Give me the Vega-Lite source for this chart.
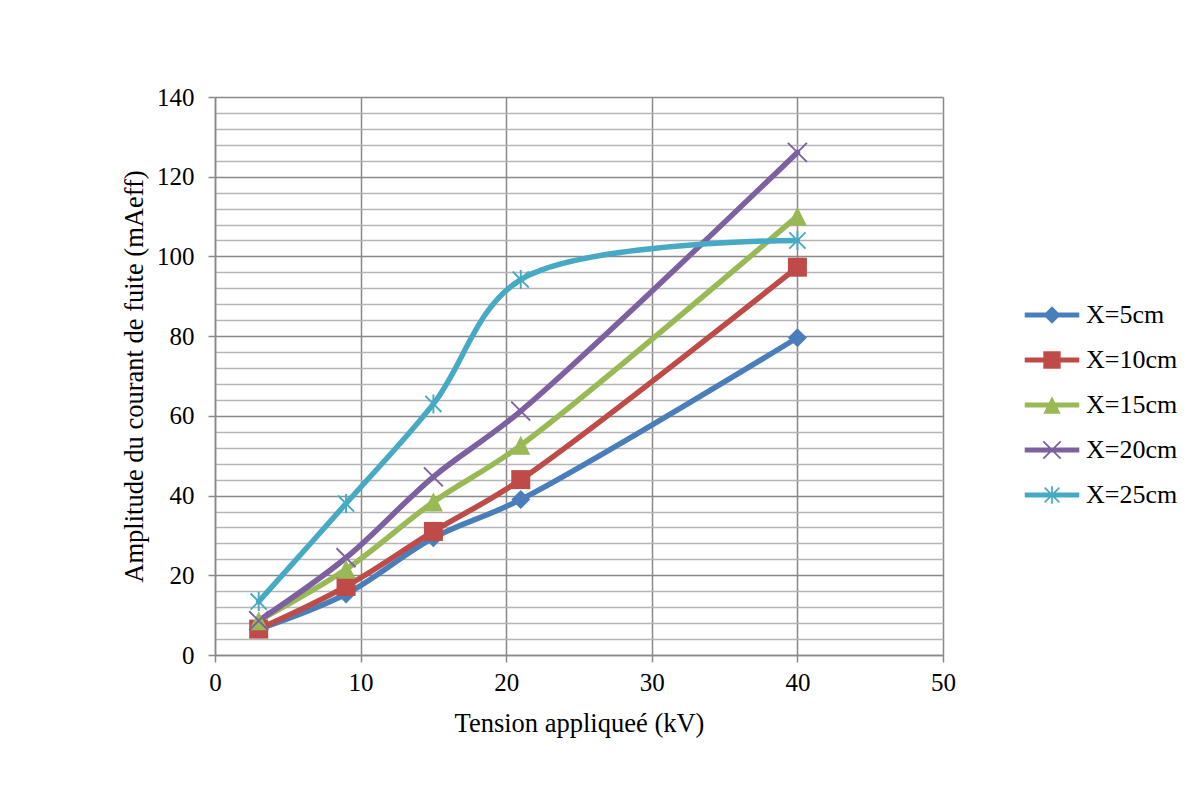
{
  "$schema": "https://vega.github.io/schema/vega-lite/v6.json",
  "width": 728,
  "height": 558,
  "autosize": {"type": "none"},
  "padding": {"left": 215, "top": 97, "right": 260, "bottom": 141},
  "background": "white",
  "config": {"font": "Liberation Serif", "view": {"stroke": null}},
  "data": {"values": [
    {"kv": 3, "amp": 6.5, "serie": "X=5cm"},
    {"kv": 9, "amp": 15.3, "serie": "X=5cm"},
    {"kv": 15, "amp": 29.4, "serie": "X=5cm"},
    {"kv": 21, "amp": 39.0, "serie": "X=5cm"},
    {"kv": 40, "amp": 79.6, "serie": "X=5cm"},
    {"kv": 3, "amp": 6.5, "serie": "X=10cm"},
    {"kv": 9, "amp": 17.2, "serie": "X=10cm"},
    {"kv": 15, "amp": 31.0, "serie": "X=10cm"},
    {"kv": 21, "amp": 44.0, "serie": "X=10cm"},
    {"kv": 40, "amp": 97.3, "serie": "X=10cm"},
    {"kv": 3, "amp": 8.6, "serie": "X=15cm"},
    {"kv": 9, "amp": 21.5, "serie": "X=15cm"},
    {"kv": 15, "amp": 38.4, "serie": "X=15cm"},
    {"kv": 21, "amp": 52.6, "serie": "X=15cm"},
    {"kv": 40, "amp": 110.1, "serie": "X=15cm"},
    {"kv": 3, "amp": 8.6, "serie": "X=20cm"},
    {"kv": 9, "amp": 24.4, "serie": "X=20cm"},
    {"kv": 15, "amp": 44.7, "serie": "X=20cm"},
    {"kv": 21, "amp": 61.2, "serie": "X=20cm"},
    {"kv": 40, "amp": 126.1, "serie": "X=20cm"},
    {"kv": 3, "amp": 13.4, "serie": "X=25cm"},
    {"kv": 9, "amp": 38.0, "serie": "X=25cm"},
    {"kv": 15, "amp": 63.0, "serie": "X=25cm"},
    {"kv": 21, "amp": 94.2, "serie": "X=25cm"},
    {"kv": 40, "amp": 104.0, "serie": "X=25cm"}
  ]},
  "layer": [
    {
      "mark": {"type": "line", "interpolate": "catmull-rom", "strokeWidth": 5.5, "strokeCap": "round", "strokeJoin": "round"},
      "encoding": {
        "x": {"field": "kv", "type": "quantitative", "scale": {"domain": [0, 50]},
          "axis": {"values": [0, 10, 20, 30, 40, 50], "grid": true, "gridColor": "#898989", "gridWidth": 1.5,
            "domainColor": "#898989", "domainWidth": 1.5, "tickColor": "#898989", "tickWidth": 1.5, "tickSize": 7,
            "labelFontSize": 25, "labelColor": "black", "labelPadding": 8, "labelFlush": false,
            "title": "Tension appliqueé (kV)", "titleFontSize": 26.5, "titleFontWeight": "normal", "titleColor": "black", "titlePadding": 15}},
        "y": {"field": "amp", "type": "quantitative", "scale": {"domain": [0, 140]},
          "axis": {"values": [0, 20, 40, 60, 80, 100, 120, 140], "grid": true, "gridColor": "#898989", "gridWidth": 1.5,
            "domainColor": "#898989", "domainWidth": 1.5, "tickColor": "#898989", "tickWidth": 1.5, "tickSize": 7,
            "labelFontSize": 25, "labelColor": "black", "labelPadding": 14,
            "title": "Amplitude du courant de fuite (mAeff)", "titleFontSize": 26.5, "titleFontWeight": "normal", "titleColor": "black", "titlePadding": 8}},
        "color": {"field": "serie", "type": "nominal",
          "scale": {"domain": ["X=5cm", "X=10cm", "X=15cm", "X=20cm", "X=25cm"], "range": ["#4A7EBB", "#BE4B48", "#98B954", "#7D60A0", "#46AAC5"]},
          "legend": null}
      }
    },
    {
      "mark": {"type": "point", "filled": true, "opacity": 1, "size": 361},
      "encoding": {
        "x": {"field": "kv", "type": "quantitative", "scale": {"domain": [0, 50]},
          "axis": {"values": [0, 10, 20, 30, 40, 50], "grid": true, "gridColor": "#898989", "gridWidth": 1.5,
            "domainColor": "#898989", "domainWidth": 1.5, "tickColor": "#898989", "tickWidth": 1.5, "tickSize": 7,
            "labelFontSize": 25, "labelColor": "black", "labelPadding": 8, "labelFlush": false,
            "title": "Tension appliqueé (kV)", "titleFontSize": 26.5, "titleFontWeight": "normal", "titleColor": "black", "titlePadding": 15}},
        "y": {"field": "amp", "type": "quantitative", "scale": {"domain": [0, 140]},
          "axis": {"orient": "right", "values": [4, 8, 12, 16, 24, 28, 32, 36, 44, 48, 52, 56, 64, 68, 72, 76, 84, 88, 92, 96, 104, 108, 112, 116, 124, 128, 132, 136],
            "grid": true, "gridColor": "#b5b5b5", "gridWidth": 1.5, "labels": false, "ticks": false, "domain": false, "title": null}},
        "color": {"field": "serie", "type": "nominal",
          "scale": {"domain": ["X=5cm", "X=10cm", "X=15cm", "X=20cm", "X=25cm"], "range": ["#4A7EBB", "#BE4B48", "#98B954", "#7D60A0", "#46AAC5"]},
          "legend": null},
        "shape": {"field": "serie", "type": "nominal",
          "scale": {"domain": ["X=5cm", "X=10cm", "X=15cm", "X=20cm", "X=25cm"],
            "range": [
              "M0,-1L1,0L0,1L-1,0Z",
              "M-1,-1L1,-1L1,1L-1,1Z",
              "M0,-1L1,1L-1,1Z",
              "M-0.93,-1.07L1.07,0.93L0.93,1.07L-1.07,-0.93ZM-1.07,0.93L0.93,-1.07L1.07,-0.93L-0.93,1.07Z",
              "M-0.1,-1L0.1,-1L0.1,1L-0.1,1ZM-0.78,-0.92L0.92,0.78L0.78,0.92L-0.92,-0.78ZM-0.92,0.78L0.78,-0.92L0.92,-0.78L-0.78,0.92Z"
            ]},
          "legend": null}
      }
    },
    {
      "transform": [{"filter": "datum.kv < 0"}],
      "mark": {"type": "point", "filled": true, "opacity": 1},
      "encoding": {
        "x": {"field": "kv", "type": "quantitative", "scale": {"domain": [0, 50]},
          "axis": {"values": [0, 10, 20, 30, 40, 50], "grid": true, "gridColor": "#898989", "gridWidth": 1.5,
            "domainColor": "#898989", "domainWidth": 1.5, "tickColor": "#898989", "tickWidth": 1.5, "tickSize": 7,
            "labelFontSize": 25, "labelColor": "black", "labelPadding": 8, "labelFlush": false,
            "title": "Tension appliqueé (kV)", "titleFontSize": 26.5, "titleFontWeight": "normal", "titleColor": "black", "titlePadding": 15}},
        "y": {"field": "amp", "type": "quantitative", "scale": {"domain": [0, 140]}, "axis": null},
        "color": {"field": "serie", "type": "nominal",
          "scale": {"domain": ["X=5cm", "X=10cm", "X=15cm", "X=20cm", "X=25cm"], "range": ["#4A7EBB", "#BE4B48", "#98B954", "#7D60A0", "#46AAC5"]},
          "legend": {"orient": "none", "legendX": 824, "legendY": 205, "title": null, "padding": 0,
            "labelFontSize": 26, "labelFont": "Liberation Serif", "labelColor": "black", "labelOffset": 21,
            "rowPadding": 19, "symbolSize": 300, "symbolStrokeWidth": 0}},
        "shape": {"field": "serie", "type": "nominal",
          "scale": {"domain": ["X=5cm", "X=10cm", "X=15cm", "X=20cm", "X=25cm"],
            "range": [
              "M-3.15,-0.28L3.15,-0.28L3.15,0.28L-3.15,0.28ZM0,-1L1,0L0,1L-1,0Z",
              "M-3.15,-0.28L3.15,-0.28L3.15,0.28L-3.15,0.28ZM-1,-1L1,-1L1,1L-1,1Z",
              "M-3.15,-0.28L3.15,-0.28L3.15,0.28L-3.15,0.28ZM0,-1L1,1L-1,1Z",
              "M-3.15,-0.28L3.15,-0.28L3.15,0.28L-3.15,0.28ZM-0.93,-1.07L1.07,0.93L0.93,1.07L-1.07,-0.93ZM-1.07,0.93L0.93,-1.07L1.07,-0.93L-0.93,1.07Z",
              "M-3.15,-0.28L3.15,-0.28L3.15,0.28L-3.15,0.28ZM-0.1,-1L0.1,-1L0.1,1L-0.1,1ZM-0.78,-0.92L0.92,0.78L0.78,0.92L-0.92,-0.78ZM-0.92,0.78L0.78,-0.92L0.92,-0.78L-0.78,0.92Z"
            ]},
          "legend": {"orient": "none", "legendX": 824, "legendY": 205, "title": null, "padding": 0,
            "labelFontSize": 26, "labelFont": "Liberation Serif", "labelColor": "black", "labelOffset": 21,
            "rowPadding": 19, "symbolSize": 300, "symbolStrokeWidth": 0}}
      }
    }
  ],
  "resolve": {"scale": {"color": "independent", "shape": "independent"}, "axis": {"y": "independent"}}
}
